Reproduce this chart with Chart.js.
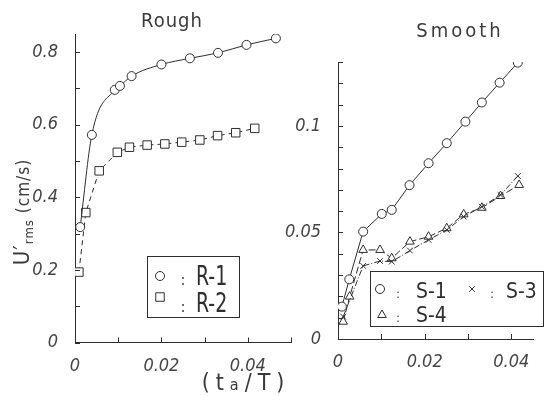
<!DOCTYPE html>
<html>
<head>
<meta charset="utf-8">
<script src="https://cdn.jsdelivr.net/npm/chart.js@4.4.1/dist/chart.umd.min.js"></script>
<style>
  body { margin: 0; background: #fff; }
  #wrap { position: relative; width: 555px; height: 396px; overflow: hidden; background: #fff; }
  canvas { position: absolute; top: 0; }
  .txt { position: absolute; color: #3a3a3a; font-family: "DejaVu Sans Condensed", sans-serif; white-space: nowrap; text-align: center; }
  #tRough { left: 122px; top: 10px; width: 100px; font-size: 20px; line-height: 21px; letter-spacing: 1px; }
  #tSmooth { left: 400px; top: 20px; width: 120px; font-size: 20px; line-height: 21px; letter-spacing: 3px; }
  #yTitle { left: -78px; top: 197px; width: 200px; height: 30px; line-height: 30px; font-size: 17px; letter-spacing: 1px; transform: rotate(-90deg); }
  #yTitle .u { font-size: 22px; }
  #yTitle sub { font-size: 13px; vertical-align: -4px; }
  #xTitle { left: 186px; top: 368px; width: 120px; line-height: 28px; font-size: 23px; letter-spacing: 6px; }
  #xTitle .a { font-size: 16px; }
</style>
</head>
<body>
<div id="wrap">
  <canvas id="rough" width="300" height="396" style="left:0"></canvas>
  <canvas id="smooth" width="275" height="396" style="left:280px"></canvas>
  <div class="txt" id="tRough">Rough</div>
  <div class="txt" id="tSmooth">Smooth</div>
  <div class="txt" id="yTitle"><span class="u">U′</span><sub>rms</sub> (cm/s)</div>
  <div class="txt" id="xTitle">(t<span class="a">a</span>/T)</div>
</div>
<script>
// ---------- data ----------
const r1X = [0.0012, 0.0039, 0.0092, 0.0104, 0.0131, 0.0200, 0.0266, 0.0331, 0.0397, 0.0465]
const r1Y = [0.318, 0.572, 0.696, 0.707, 0.734, 0.766, 0.783, 0.798, 0.820, 0.838]
const r2X = [0.0009, 0.0025, 0.0056, 0.0098, 0.0126, 0.0167, 0.0208, 0.0247, 0.0289, 0.0330, 0.0372, 0.0416]
const r2Y = [0.194, 0.358, 0.473, 0.524, 0.538, 0.544, 0.547, 0.552, 0.558, 0.570, 0.578, 0.590]

const s1X = [0.0009, 0.0026, 0.0058, 0.0101, 0.0124, 0.0165, 0.0209, 0.0251, 0.0294, 0.0332, 0.0373, 0.0415]
const s1Y = [0.0152, 0.0280, 0.0504, 0.0587, 0.0606, 0.0722, 0.0825, 0.0919, 0.1020, 0.1110, 0.1203, 0.1297]
const s3X = [0.0012, 0.0058, 0.0097, 0.0124, 0.0166, 0.0209, 0.0251, 0.0290, 0.0332, 0.0375, 0.0415]
const s3Y = [0.0105, 0.0343, 0.0366, 0.0363, 0.0415, 0.0465, 0.0512, 0.0574, 0.0621, 0.0676, 0.0765]
const s4X = [0.0012, 0.0027, 0.0058, 0.0097, 0.0124, 0.0166, 0.0209, 0.0251, 0.0290, 0.0332, 0.0375, 0.0418]
const s4Y = [0.0081, 0.0199, 0.0418, 0.0418, 0.0379, 0.0457, 0.0480, 0.0520, 0.0585, 0.0616, 0.0671, 0.0723]

// tick labels
const roughYLabels = [0, 0.2, 0.4, 0.6, 0.8]
const smoothYLabels = [0, 0.05, 0.1]
const xLabels = [0, 0.02, 0.04]

const INK = '#2e2e2e'
const TICK_FONT = {family: '"DejaVu Sans Condensed", sans-serif', size: 18, style: 'italic'}
const LEG_FONT = '"DejaVu Sans Condensed", sans-serif'

const pts = (xs, ys) => xs.map((x, i) => ({x: x, y: ys[i]}))
const near = (v, list) => list.some((l) => Math.abs(v - l) < 1e-6)
const fmt = (v) => Math.abs(v) < 1e-9 ? '0' : String(+v.toFixed(3))

// short tick marks drawn on the inside of the axes
const innerTicks = {
    id: 'innerTicks',
    afterDraw(chart, args, opts) {
        const {ctx, scales} = chart
        const x = scales.x, y = scales.y
        ctx.save()
        ctx.strokeStyle = INK
        ctx.lineWidth = 1
        ctx.beginPath()
        x.ticks.forEach((t) => {
            const px = Math.round(x.getPixelForValue(t.value)) + 0.5
            ctx.moveTo(px, y.bottom)
            ctx.lineTo(px, y.bottom - 5)
        })
        y.ticks.forEach((t) => {
            const py = Math.round(y.getPixelForValue(t.value)) + 0.5
            ctx.moveTo(x.left, py)
            ctx.lineTo(x.left + 5, py)
        })
        ctx.stroke()
        ctx.restore()
    }
}

// boxed legend placed inside the plot like in the figure
const boxLegend = {
    id: 'boxLegend',
    afterDraw(chart, args, opts) {
        const ctx = chart.ctx
        ctx.save()
        ctx.fillStyle = '#fff'
        ctx.fillRect(opts.box[0], opts.box[1], opts.box[2], opts.box[3])
        ctx.strokeStyle = INK
        ctx.lineWidth = 1
        ctx.strokeRect(opts.box[0] + 0.5, opts.box[1] + 0.5, opts.box[2], opts.box[3])
        opts.items.forEach((it) => {
            const ds = chart.data.datasets[it.ds]
            ctx.strokeStyle = INK
            ctx.fillStyle = '#fff'
            ctx.lineWidth = 1
            Chart.helpers.drawPoint(ctx, {pointStyle: ds.pointStyle, radius: ds.pointRadius, rotation: 0, borderWidth: 1}, it.mx, it.my)
            ctx.fillStyle = INK
            ctx.textBaseline = 'alphabetic'
            ctx.textAlign = 'center'
            ctx.font = Math.round(opts.size * 0.55) + 'px ' + LEG_FONT
            ctx.fillText(':', it.cx, it.base)
            ctx.textAlign = 'left'
            ctx.font = opts.size + 'px ' + LEG_FONT
            ctx.save()
            ctx.translate(it.tx, it.base)
            ctx.scale(opts.sx, 1)
            ctx.fillText(ds.label, 0, 0)
            ctx.restore()
        })
        ctx.restore()
    }
}

const lineDs = (label, data, style, radius, dash, smooth) => ({
    label: label,
    data: data,
    showLine: true,
    borderColor: INK,
    borderWidth: 1,
    borderDash: dash,
    backgroundColor: '#fff',
    pointStyle: style,
    pointRadius: radius,
    pointBorderColor: INK,
    pointBackgroundColor: '#fff',
    pointBorderWidth: 1,
    cubicInterpolationMode: smooth ? 'monotone' : 'default',
    tension: 0
})

const axes = (xMax, yMax, yStep, yLabels, yWidth, xHeight) => ({
    x: {
        type: 'linear', min: 0, max: xMax,
        grid: {display: false},
        border: {display: true, color: INK, width: 1},
        ticks: {
            stepSize: 0.01, includeBounds: false, autoSkip: false, maxRotation: 0, color: '#444', font: TICK_FONT, padding: 5,
            callback: (v) => near(v, xLabels) ? fmt(v) : ''
        },
        afterFit: (s) => { s.height = xHeight }
    },
    y: {
        type: 'linear', min: 0, max: yMax,
        grid: {display: false},
        border: {display: true, color: INK, width: 1},
        ticks: {
            stepSize: yStep, includeBounds: false, autoSkip: false, color: '#444', font: TICK_FONT, padding: 9,
            callback: (v) => near(v, yLabels) ? fmt(v) : ''
        },
        afterFit: (s) => { s.width = yWidth }
    }
})

new Chart(document.getElementById('rough'), {
    type: 'scatter',
    data: {
        datasets: [
            lineDs('R-1', pts(r1X, r1Y), 'circle', 4.5, [], true),
            lineDs('R-2', pts(r2X, r2Y), 'rect', 6, [5, 4], false)
        ]
    },
    options: {
        responsive: false, animation: false,
        layout: {padding: {top: 34, right: 9, bottom: 0, left: 0}},
        scales: axes(0.05, 0.85, 0.1, roughYLabels, 75, 53.5),
        plugins: {
            legend: {display: false}, tooltip: {enabled: false},
            boxLegend: {
                box: [147, 256, 92, 61], size: 27, sx: 0.78,
                items: [
                    {ds: 0, mx: 160, my: 276, cx: 183, tx: 196, base: 285},
                    {ds: 1, mx: 160, my: 297, cx: 183, tx: 196, base: 312}
                ]
            }
        }
    },
    plugins: [innerTicks, boxLegend]
})

new Chart(document.getElementById('smooth'), {
    type: 'scatter',
    data: {
        datasets: [
            lineDs('S-1', pts(s1X, s1Y), 'circle', 4.5, [], false),
            lineDs('S-3', pts(s3X, s3Y), 'crossRot', 4, [6, 2, 1, 2], false),
            lineDs('S-4', pts(s4X, s4Y), 'triangle', 5, [7, 3], false)
        ]
    },
    options: {
        responsive: false, animation: false,
        layout: {padding: {top: 62, right: 22, bottom: 0, left: 0}},
        scales: axes(0.045, 0.13, 0.01, smoothYLabels, 58, 57),
        plugins: {
            legend: {display: false}, tooltip: {enabled: false},
            boxLegend: {
                box: [90, 271, 173, 55], size: 22, sx: 0.95,
                items: [
                    {ds: 0, mx: 100, my: 289, cx: 118, tx: 136, base: 298},
                    {ds: 1, mx: 192, my: 289, cx: 212, tx: 226, base: 298},
                    {ds: 2, mx: 102, my: 315, cx: 118, tx: 136, base: 322}
                ]
            }
        }
    },
    plugins: [innerTicks, boxLegend]
})
</script>
</body>
</html>
